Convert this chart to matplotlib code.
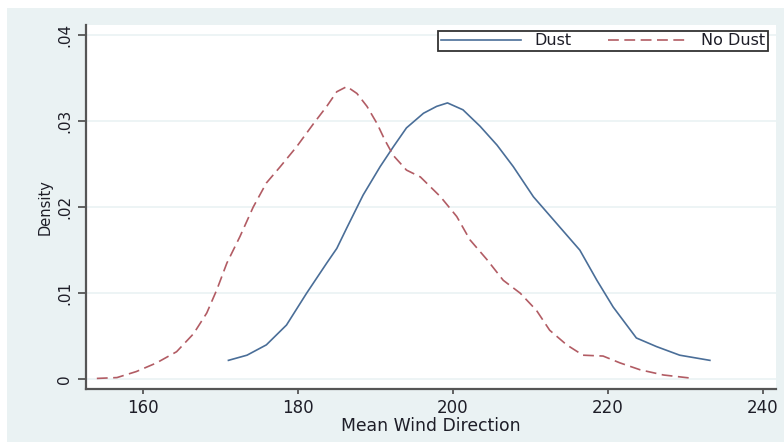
import matplotlib
matplotlib.use("Agg")
import matplotlib.pyplot as plt
from matplotlib.patches import Rectangle

# ---- data ----
dust_x = [171.0, 173.4, 175.9, 178.5, 181.1, 183.7, 185.0, 186.3, 188.4, 190.6,
          192.3, 194.0, 196.2, 197.9, 199.3, 201.3, 203.5, 205.7, 207.8, 210.4,
          213.4, 216.4, 218.6, 220.7, 223.7, 226.3, 229.3, 233.2]
dust_y = [0.0022, 0.0028, 0.0040, 0.0063, 0.0100, 0.0135, 0.0152, 0.0176, 0.0214, 0.0247,
          0.0270, 0.0292, 0.0309, 0.0317, 0.0321, 0.0313, 0.0294, 0.0272, 0.0247, 0.0212,
          0.0181, 0.0150, 0.0115, 0.0084, 0.0048, 0.0038, 0.0028, 0.0022]

nodust_x = [154.0, 156.6, 159.1, 161.7, 164.3, 166.5, 168.2, 169.5, 170.8, 172.5,
            174.2, 175.9, 177.7, 179.8, 182.0, 183.7, 185.0, 186.3, 187.6, 188.9,
            190.2, 191.2, 192.3, 194.0, 195.8, 198.4, 200.5, 202.2, 204.4, 206.5,
            208.7, 210.8, 212.5, 214.7, 216.8, 219.4, 221.6, 224.2, 227.2, 231.1]
nodust_y = [0.0001, 0.0002, 0.0009, 0.0019, 0.0032, 0.0053, 0.0077, 0.0104, 0.0135, 0.0166,
            0.0200, 0.0228, 0.0247, 0.0270, 0.0297, 0.0317, 0.0334, 0.0340, 0.0332, 0.0317,
            0.0297, 0.0278, 0.0260, 0.0243, 0.0235, 0.0212, 0.0189, 0.0162, 0.0139, 0.0115,
            0.0100, 0.0080, 0.0057, 0.0040, 0.0028, 0.0027, 0.0019, 0.0011, 0.0005, 0.0001]

x_ticks = [160, 180, 200, 220, 240]
y_ticks = [0, 0.01, 0.02, 0.03, 0.04]
y_tick_labels = ["0", ".01", ".02", ".03", ".04"]
series_names = ["Dust", "No Dust"]
x_title = "Mean Wind Direction"
y_title = "Density"

# ---- figure ----
plt.rcParams['font.family'] = ['DejaVu Sans']
W, H = 784, 442
fig = plt.figure(figsize=(W / 100, H / 100), dpi=100, facecolor="white")
fig.patches.append(Rectangle((7 / W, 0), 1, 1 - 8 / H, transform=fig.transFigure,
                             facecolor="#EAF2F3", edgecolor="none", zorder=-10))

ax = fig.add_axes([86 / W, (H - 389) / H, 690 / W, 364 / H])
ax.set_facecolor("white")

blue = "#4A6E98"
red = "#B25C64"
ax.plot(dust_x, dust_y, color=blue, lw=1.2, label=series_names[0], zorder=3)
l2, = ax.plot(nodust_x, nodust_y, color=red, lw=1.2, label=series_names[1], zorder=3)
l2.set_dashes((6.5, 3.3))

ax.set_xlim(152.6, 241.74)
ax.set_ylim(-0.001127, 0.04115)

ax.set_xticks(x_ticks)
ax.set_yticks(y_ticks)
ax.set_yticklabels(y_tick_labels, rotation=90, va="center")

for y in y_ticks:
    ax.axhline(y, color="#EAF2F3", lw=1.2, zorder=1)

for s in ["top", "right"]:
    ax.spines[s].set_visible(False)
for s in ["left", "bottom"]:
    ax.spines[s].set_color("#555555")
    ax.spines[s].set_linewidth(1.6)

ax.tick_params(axis="x", length=3.5, width=1.3, color="#555555", pad=4,
               labelsize=12, labelcolor="#1E1E28")
ax.tick_params(axis="y", length=6, width=1.3, color="#555555", pad=4,
               labelsize=11, labelcolor="#1E1E28")

ax.set_xlabel(x_title, fontsize=12.4, color="#1E1E28", labelpad=0)
ax.set_ylabel(y_title, fontsize=10.5, color="#1E1E28", labelpad=3)

leg = fig.legend(loc="upper right", bbox_to_anchor=(768 / W, 1 - 31 / H),
                 ncol=2, fontsize=11.5, frameon=True, fancybox=False,
                 borderpad=0.15, borderaxespad=0, handlelength=5.0,
                 handletextpad=0.85, columnspacing=2.3)
leg.get_frame().set_edgecolor("#333333")
leg.get_frame().set_linewidth(1.3)
leg.get_frame().set_facecolor("white")
leg.get_frame().set_alpha(1)
for t in leg.get_texts():
    t.set_color("#1E1E28")

fig.savefig("out.png", dpi=100, facecolor=fig.get_facecolor())
